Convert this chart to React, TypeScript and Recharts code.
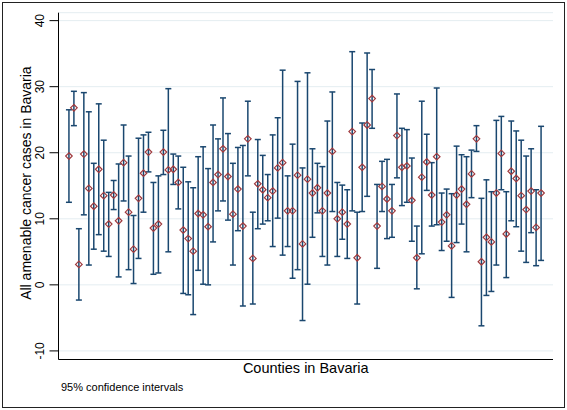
import React from 'react'
import {
  ComposedChart,
  Scatter,
  ErrorBar,
  XAxis,
  YAxis,
  CartesianGrid,
  Label,
} from 'recharts'

// county index on the x axis (1..96)
const counties = Array.from({ length: 96 }, (_, i) => i + 1)

// point estimate per county
const estimate = [
  19.5, 26.8, 3.1, 19.8, 14.6, 11.9, 17.5, 13.5, 9.2, 13.6, 9.7, 18.5, 11.0, 5.4, 13.1, 16.9,
  20.1, 8.6, 9.2, 20.1, 17.4, 17.5, 15.5, 8.3, 7.0, 5.1, 10.8, 10.6, 8.8, 15.5, 16.7, 20.6, 16.4,
  10.7, 14.5, 8.9, 22.1, 4.0, 15.3, 14.4, 13.2, 14.2, 17.7, 18.5, 11.2, 11.2, 16.6, 6.2, 16.0, 13.9,
  14.7, 11.2, 13.9, 20.2, 10.0, 11.0, 9.2, 23.2, 4.1, 17.8, 24.2, 28.2, 8.9, 14.9, 13.0, 11.2, 22.6,
  17.8, 18.0, 12.8, 4.1, 16.3, 18.6, 13.6, 19.4, 9.5, 10.6, 5.9, 13.6, 14.5, 12.2, 16.8, 22.1, 3.5,
  7.2, 6.5, 13.9, 19.9, 7.7, 17.2, 16.1, 13.5, 11.4, 14.2, 8.7, 13.9,
]

// lower bound of the 95% CI
const lowerCI = [
  12.5, 24.1, -2.3, 10.6, 3.0, 5.4, 7.6, 5.1, 4.3, 11.4, 1.2, 12.7, 2.3, 0.2, 4.0, 11.0,
  17.1, 1.6, 1.8, 16.7, 5.0, 15.2, 11.5, -1.3, -1.5, -4.5, 2.2, 0.1, 0.0, 6.5, 11.2, 12.7, 9.8,
  3.0, 8.2, -3.2, 16.5, -2.9, 8.5, 9.2, 9.7, 5.8, 10.1, 4.5, 5.8, 1.0, 2.3, -5.4, 0.1, 7.2,
  10.9, 4.3, 3.0, 11.1, 4.3, 6.9, 4.0, 11.2, -2.9, 11.1, 13.4, 23.7, 2.5, 11.1, 7.0, 7.2, 16.2,
  12.0, 12.5, 6.6, -0.6, 4.7, 14.3, 8.9, 9.1, 5.2, 6.6, -1.9, 6.4, 9.2, 5.0, 13.2, 20.2, -6.2,
  -1.6, -1.0, 3.0, 14.4, 1.1, 9.7, 8.8, 5.1, 3.4, 7.9, 2.9, 3.7,
]

// upper bound of the 95% CI
const upperCI = [
  26.5, 29.3, 8.5, 29.1, 26.2, 18.4, 27.4, 21.9, 14.0, 15.8, 18.3, 24.2, 19.5, 10.5, 22.2, 22.7,
  23.1, 15.5, 16.5, 23.4, 29.7, 19.8, 19.5, 17.8, 15.6, 14.7, 19.4, 20.9, 17.6, 24.2, 22.1, 28.3, 22.9,
  18.4, 20.8, 21.1, 27.8, 11.0, 22.0, 19.6, 16.7, 22.7, 25.3, 32.5, 16.5, 21.3, 30.8, 17.7, 32.1, 20.6,
  18.4, 17.9, 24.8, 29.2, 15.5, 15.1, 14.4, 35.3, 11.0, 24.5, 35.1, 32.6, 15.2, 18.7, 19.0, 15.2, 28.9,
  23.7, 23.5, 19.2, 8.9, 27.8, 22.8, 18.5, 29.8, 13.9, 14.5, 13.8, 21.0, 19.7, 19.4, 20.4, 24.1, 13.1,
  15.9, 14.1, 24.9, 25.5, 14.1, 24.8, 23.3, 21.9, 19.5, 20.6, 14.4, 24.0,
]

const yTicks = [-10, 0, 10, 20, 30, 40]

const data = counties.map((county, i) => ({
  county,
  estimate: estimate[i],
  ci: [estimate[i] - lowerCI[i], upperCI[i] - estimate[i]],
}))

const FONT = '"Liberation Sans", Arial, Helvetica, sans-serif'
const NAVY = '#1a476f'
const MAROON = '#a03a3e'

// hollow diamond marker
function Diamond(props: any) {
  const { cx, cy } = props
  const r = 3.3
  return (
    <path
      d={`M${cx},${cy - r}L${cx + r},${cy}L${cx},${cy + r}L${cx - r},${cy}Z`}
      fill="none"
      stroke={MAROON}
      strokeWidth={1.2}
    />
  )
}

// rotated y tick labels, stata style
function YTick(props: any) {
  const { x, y, payload } = props
  const tx = x - 3
  return (
    <text
      x={tx}
      y={y}
      transform={`rotate(-90, ${tx}, ${y})`}
      textAnchor="middle"
      fontSize={12}
      fontFamily={FONT}
      fill="#000"
    >
      {payload.value}
    </text>
  )
}

export default function App() {
  return (
    <div style={{ position: 'absolute', left: 0, top: 0, width: 567, height: 410, background: '#fff' }}>
      <div style={{ position: 'absolute', left: 0, top: 0 }}>
        <ComposedChart
          width={567}
          height={410}
          data={data}
          margin={{ top: 12.7, right: 14, bottom: 0, left: 0 }}
        >
          <CartesianGrid vertical={false} stroke="#e4edf1" strokeWidth={1} />
          <XAxis
            type="number"
            dataKey="county"
            domain={[-1.1, 98.4]}
            tick={false}
            tickLine={false}
            axisLine={{ stroke: '#000', strokeWidth: 1 }}
            height={50.5}
          >
            <Label
              content={({ viewBox }: any) => (
                <g fontFamily={FONT} fill="#000">
                  <text x={viewBox.x + viewBox.width / 2} y={viewBox.y + 13.5} textAnchor="middle" fontSize={14.5}>
                    Counties in Bavaria
                  </text>
                  <text x={viewBox.x + 2.5} y={viewBox.y + 31} fontSize={11}>
                    95% confidence intervals
                  </text>
                </g>
              )}
            />
          </XAxis>
          <YAxis
            type="number"
            domain={[-11.3, 41.2]}
            ticks={yTicks}
            width={58.5}
            tickSize={9}
            tickLine={{ stroke: '#000' }}
            axisLine={{ stroke: '#000', strokeWidth: 1 }}
            tick={<YTick />}
            allowDataOverflow
          >
            <Label
              content={({ viewBox }: any) => {
                const cx = 31
                const cy = viewBox.y + viewBox.height / 2 - 3
                return (
                  <text
                    x={cx}
                    y={cy}
                    transform={`rotate(-90, ${cx}, ${cy})`}
                    textAnchor="middle"
                    fontSize={14}
                    fontFamily={FONT}
                    fill="#000"
                  >
                    All amenable cancer cases in Bavaria
                  </text>
                )
              }}
            />
          </YAxis>
          <Scatter dataKey="estimate" shape={<Diamond />} isAnimationActive={false}>
            <ErrorBar
              dataKey="ci"
              direction="y"
              width={3}
              stroke={NAVY}
              strokeWidth={1.5}
              isAnimationActive={false}
            />
          </Scatter>
        </ComposedChart>
      </div>
      <div
        style={{
          position: 'absolute',
          left: 2,
          top: 2,
          width: 563,
          height: 406,
          border: '1px solid #222',
          boxSizing: 'border-box',
          pointerEvents: 'none',
        }}
      />
    </div>
  )
}
